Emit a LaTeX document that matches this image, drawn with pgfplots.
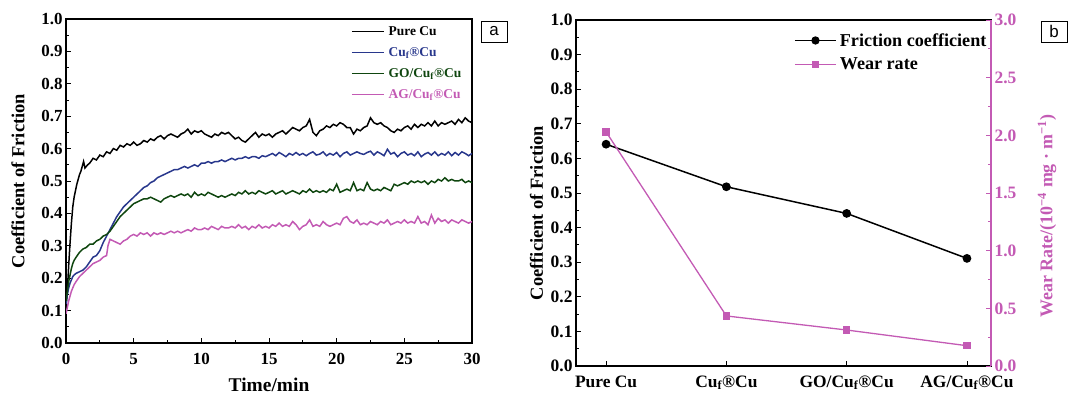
\documentclass[border=0pt]{standalone}
\usepackage{fontspec}
\setmainfont{Liberation Serif}
\newfontfamily\sansf{Liberation Sans}
\usepackage{pgfplots}
\pgfplotsset{compat=1.18}
\definecolor{cblue}{RGB}{40,55,140}
\definecolor{cgreen}{RGB}{15,70,15}
\definecolor{cpink}{RGB}{195,90,180}
\begin{document}
\begin{tikzpicture}
\useasboundingbox (0bp,0bp) rectangle (1075bp,395bp);
% ---------------- panel a ----------------
\begin{axis}[at={(66bp,52bp)}, anchor=south west, width=406bp, height=324bp, scale only axis,
  xmin=0, xmax=30, ymin=0, ymax=1,
  xtick={0,5,10,15,20,25,30}, ytick={0,0.1,0.2,0.3,0.4,0.5,0.6,0.7,0.8,0.9,1.0},
  minor x tick num=1, minor y tick num=1,
  tick align=inside, xtick pos=bottom, ytick pos=left,
  major tick length=5bp, minor tick length=3bp,
  every tick/.style={black, line width=0.9bp},
  axis line style={line width=1.3bp},
  /pgf/number format/assume math mode=true,
  ticklabel style={font=\fontsize{17}{20}\selectfont\bfseries},
  xticklabel style={yshift=-7bp},
  yticklabel style={/pgf/number format/.cd, fixed, fixed zerofill, precision=1},
  xlabel={Time/min},
  xlabel style={font=\fontsize{19.5}{22}\selectfont\bfseries, at={(axis description cs:0.5,-0.128)}, anchor=center},
  ylabel={Coefficient of Friction},
  ylabel style={font=\fontsize{18.5}{22}\selectfont\bfseries, at={(axis description cs:-0.118,0.5)}, anchor=center},
  legend cell align=left,
  legend image code/.code={\draw[#1, line width=1.4bp] (0bp,0bp) -- (32bp,0bp);},
  legend style={at={(axis description cs:0.702,0.978)}, anchor=north west, draw=none, fill=none,
    font=\fontsize{13.5}{15}\selectfont\bfseries, row sep=10.5bp, column sep=4bp, inner sep=0pt,
    nodes={inner sep=0pt}},
]
\addplot[black, line width=1.5bp] coordinates {
(0,0.11)(0.1,0.16)(0.2,0.24)(0.3,0.31)(0.4,0.37)(0.5,0.42)(0.6,0.45)(0.7,0.47)(0.8,0.49)(0.9,0.505)
(1.0,0.52)(1.1,0.53)(1.2,0.545)(1.3,0.56)(1.4,0.54)(1.5,0.545)(1.6,0.55)(1.75,0.555)(2.0,0.57)(2.25,0.565)
(2.5,0.58)(2.75,0.575)(3.0,0.59)(3.25,0.585)(3.5,0.6)(3.75,0.595)(4.0,0.61)(4.25,0.605)(4.5,0.615)(4.75,0.61)
(5.0,0.62)(5.25,0.61)(5.5,0.615)(5.75,0.625)(6.0,0.62)(6.25,0.63)(6.5,0.625)(6.75,0.635)(7.0,0.64)(7.25,0.63)
(7.5,0.64)(7.75,0.645)(8.0,0.64)(8.25,0.635)(8.5,0.645)(8.75,0.65)(9.0,0.66)(9.25,0.645)(9.5,0.655)(9.75,0.65)
(10.0,0.655)(10.25,0.645)(10.5,0.64)(10.75,0.635)(11.0,0.645)(11.25,0.64)(11.5,0.65)(11.75,0.645)(12.0,0.65)(12.25,0.64)
(12.5,0.63)(12.75,0.635)(13.0,0.625)(13.25,0.62)(13.5,0.63)(13.75,0.64)(14.0,0.65)(14.25,0.635)(14.5,0.645)(14.75,0.64)
(15.0,0.645)(15.25,0.635)(15.5,0.645)(15.75,0.65)(16.0,0.655)(16.25,0.645)(16.5,0.655)(16.75,0.665)(17.0,0.66)(17.25,0.655)
(17.5,0.665)(17.75,0.67)(18.0,0.69)(18.25,0.65)(18.5,0.64)(18.75,0.655)(19.0,0.66)(19.25,0.67)(19.5,0.665)(19.75,0.675)
(20.0,0.67)(20.25,0.68)(20.5,0.675)(20.75,0.665)(21.0,0.665)(21.25,0.645)(21.5,0.66)(21.75,0.655)(22.0,0.665)(22.25,0.67)
(22.5,0.695)(22.75,0.68)(23.0,0.675)(23.25,0.68)(23.5,0.67)(23.75,0.665)(24.0,0.655)(24.25,0.65)(24.5,0.66)(24.75,0.655)
(25.0,0.665)(25.25,0.67)(25.5,0.66)(25.75,0.675)(26.0,0.665)(26.25,0.675)(26.5,0.67)(26.75,0.68)(27.0,0.67)(27.25,0.685)
(27.5,0.67)(27.75,0.68)(28.0,0.675)(28.25,0.68)(28.5,0.685)(28.75,0.675)(29.0,0.69)(29.25,0.68)(29.5,0.695)(29.75,0.685)(30.0,0.68)};
\addlegendentry{Pure Cu}
\addplot[cblue, line width=1.5bp] coordinates {
(0,0.12)(0.1,0.15)(0.2,0.17)(0.3,0.185)(0.4,0.195)(0.5,0.205)(0.6,0.21)(0.75,0.215)(1.0,0.22)(1.25,0.225)
(1.5,0.235)(1.75,0.25)(2.0,0.265)(2.25,0.27)(2.5,0.285)(2.75,0.31)(3.0,0.33)(3.25,0.35)(3.5,0.37)(3.75,0.39)
(4.0,0.405)(4.25,0.42)(4.5,0.43)(4.75,0.44)(5.0,0.45)(5.25,0.46)(5.5,0.47)(5.75,0.48)(6.0,0.485)(6.25,0.495)
(6.5,0.5)(6.75,0.51)(7.0,0.515)(7.25,0.52)(7.5,0.525)(7.75,0.53)(8.0,0.535)(8.25,0.535)(8.5,0.54)(8.75,0.545)
(9.0,0.54)(9.25,0.545)(9.5,0.55)(9.75,0.545)(10.0,0.555)(10.25,0.555)(10.5,0.56)(10.75,0.555)(11.0,0.56)(11.25,0.56)
(11.5,0.565)(11.75,0.56)(12.0,0.565)(12.25,0.57)(12.5,0.565)(12.75,0.57)(13.0,0.57)(13.25,0.575)(13.5,0.57)(13.75,0.575)
(14.0,0.575)(14.25,0.57)(14.5,0.578)(14.75,0.575)(15.0,0.58)(15.25,0.585)(15.5,0.578)(15.75,0.588)(16.0,0.582)(16.25,0.575)
(16.5,0.585)(16.75,0.58)(17.0,0.588)(17.25,0.58)(17.5,0.585)(17.75,0.578)(18.0,0.585)(18.25,0.59)(18.5,0.58)(18.75,0.583)
(19.0,0.59)(19.25,0.578)(19.5,0.585)(19.75,0.58)(20.0,0.588)(20.25,0.575)(20.5,0.585)(20.75,0.59)(21.0,0.58)(21.25,0.585)
(21.5,0.59)(21.75,0.585)(22.0,0.582)(22.25,0.588)(22.5,0.592)(22.75,0.58)(23.0,0.59)(23.25,0.585)(23.5,0.578)(23.75,0.598)
(24.0,0.583)(24.25,0.588)(24.5,0.575)(24.75,0.585)(25.0,0.59)(25.25,0.58)(25.5,0.585)(25.75,0.578)(26.0,0.59)(26.25,0.575)
(26.5,0.583)(26.75,0.588)(27.0,0.58)(27.25,0.59)(27.5,0.578)(27.75,0.585)(28.0,0.58)(28.25,0.59)(28.5,0.578)(28.75,0.588)
(29.0,0.58)(29.25,0.59)(29.5,0.585)(29.75,0.578)(30.0,0.585)};
\addlegendentry{\textcolor{cblue}{Cu\textsubscript{f}®Cu}}
\addplot[cgreen, line width=1.5bp] coordinates {
(0,0.13)(0.1,0.16)(0.2,0.19)(0.3,0.21)(0.4,0.23)(0.5,0.245)(0.6,0.255)(0.75,0.265)(1.0,0.28)(1.25,0.29)
(1.5,0.295)(1.75,0.305)(2.0,0.305)(2.25,0.315)(2.5,0.32)(2.75,0.33)(3.0,0.335)(3.25,0.345)(3.5,0.36)(3.75,0.375)
(4.0,0.39)(4.25,0.4)(4.5,0.41)(4.75,0.42)(5.0,0.43)(5.25,0.435)(5.5,0.44)(5.75,0.445)(6.0,0.445)(6.25,0.45)
(6.5,0.445)(6.75,0.44)(7.0,0.435)(7.25,0.445)(7.5,0.45)(7.75,0.455)(8.0,0.45)(8.25,0.455)(8.5,0.46)(8.75,0.455)
(9.0,0.46)(9.25,0.45)(9.5,0.465)(9.75,0.455)(10.0,0.46)(10.25,0.455)(10.5,0.465)(10.75,0.46)(11.0,0.455)(11.25,0.45)
(11.5,0.455)(11.75,0.45)(12.0,0.455)(12.25,0.46)(12.5,0.455)(12.75,0.465)(13.0,0.46)(13.25,0.47)(13.5,0.46)(13.75,0.465)
(14.0,0.46)(14.25,0.47)(14.5,0.465)(14.75,0.46)(15.0,0.465)(15.25,0.47)(15.5,0.46)(15.75,0.465)(16.0,0.47)(16.25,0.46)
(16.5,0.465)(16.75,0.47)(17.0,0.465)(17.25,0.46)(17.5,0.47)(17.75,0.465)(18.0,0.475)(18.25,0.465)(18.5,0.47)(18.75,0.465)
(19.0,0.47)(19.25,0.465)(19.5,0.475)(19.75,0.47)(20.0,0.49)(20.25,0.465)(20.5,0.47)(20.75,0.475)(21.0,0.47)(21.25,0.495)
(21.5,0.47)(21.75,0.475)(22.0,0.47)(22.25,0.495)(22.5,0.475)(22.75,0.47)(23.0,0.475)(23.25,0.47)(23.5,0.48)(23.75,0.475)
(24.0,0.47)(24.25,0.49)(24.5,0.485)(24.75,0.49)(25.0,0.495)(25.25,0.49)(25.5,0.5)(25.75,0.495)(26.0,0.5)(26.25,0.495)
(26.5,0.5)(26.75,0.49)(27.0,0.5)(27.25,0.495)(27.5,0.505)(27.75,0.5)(28.0,0.51)(28.25,0.5)(28.5,0.505)(28.75,0.5)
(29.0,0.5)(29.25,0.505)(29.5,0.495)(29.75,0.5)(30.0,0.495)};
\addlegendentry{\textcolor{cgreen}{GO/Cu\textsubscript{f}®Cu}}
\addplot[cpink, line width=1.5bp] coordinates {
(0,0.09)(0.1,0.11)(0.2,0.13)(0.3,0.145)(0.4,0.16)(0.5,0.17)(0.6,0.18)(0.75,0.19)(1.0,0.205)(1.25,0.215)
(1.5,0.225)(1.75,0.235)(2.0,0.245)(2.25,0.25)(2.5,0.255)(2.75,0.265)(3.0,0.27)(3.1,0.3)(3.25,0.32)(3.5,0.315)
(3.75,0.31)(4.0,0.305)(4.25,0.315)(4.5,0.32)(4.75,0.33)(5.0,0.335)(5.25,0.33)(5.5,0.34)(5.75,0.335)(6.0,0.34)
(6.25,0.33)(6.5,0.34)(6.75,0.335)(7.0,0.34)(7.25,0.335)(7.5,0.34)(7.75,0.345)(8.0,0.34)(8.25,0.345)(8.5,0.34)
(8.75,0.345)(9.0,0.35)(9.25,0.345)(9.5,0.355)(9.75,0.35)(10.0,0.35)(10.25,0.355)(10.5,0.35)(10.75,0.36)(11.0,0.355)
(11.25,0.35)(11.5,0.36)(11.75,0.355)(12.0,0.355)(12.25,0.36)(12.5,0.355)(12.75,0.365)(13.0,0.355)(13.25,0.36)(13.5,0.35)
(13.75,0.36)(14.0,0.355)(14.25,0.365)(14.5,0.355)(14.75,0.36)(15.0,0.355)(15.25,0.365)(15.5,0.36)(15.75,0.37)(16.0,0.36)
(16.25,0.365)(16.5,0.36)(16.75,0.375)(17.0,0.365)(17.25,0.35)(17.5,0.36)(17.75,0.365)(18.0,0.38)(18.25,0.36)(18.5,0.365)
(18.75,0.36)(19.0,0.375)(19.25,0.365)(19.5,0.36)(19.75,0.365)(20.0,0.37)(20.25,0.365)(20.5,0.385)(20.75,0.39)(21.0,0.375)
(21.25,0.37)(21.5,0.38)(21.75,0.365)(22.0,0.37)(22.25,0.365)(22.5,0.375)(22.75,0.37)(23.0,0.365)(23.25,0.375)(23.5,0.37)
(23.75,0.38)(24.0,0.365)(24.25,0.37)(24.5,0.375)(24.75,0.37)(25.0,0.38)(25.25,0.37)(25.5,0.375)(25.75,0.37)(26.0,0.39)
(26.25,0.37)(26.5,0.375)(26.75,0.365)(27.0,0.395)(27.25,0.37)(27.5,0.385)(27.75,0.375)(28.0,0.38)(28.25,0.37)(28.5,0.38)
(28.75,0.375)(29.0,0.37)(29.25,0.38)(29.5,0.375)(29.75,0.37)(30.0,0.375)};
\addlegendentry{\textcolor{cpink}{AG/Cu\textsubscript{f}®Cu}}
\end{axis}
\node[draw, line width=0.8bp, minimum width=26bp, minimum height=21bp, inner sep=0pt,
  font=\sansf\fontsize{17}{17}\selectfont] at (494bp,363.5bp) {a};
% ---------------- panel b ----------------
\begin{axis}[at={(576bp,29bp)}, anchor=south west, width=415bp, height=346bp, scale only axis,
  xmin=-0.25, xmax=3.2, ymin=0, ymax=1,
  xtick={0,1,2,3},
  xticklabels={Pure Cu, Cu\textsubscript{f}®Cu, GO/Cu\textsubscript{f}®Cu, AG/Cu\textsubscript{f}®Cu},
  ytick={0,0.1,0.2,0.3,0.4,0.5,0.6,0.7,0.8,0.9,1.0},
  minor y tick num=1,
  tick align=inside, xtick pos=bottom, ytick pos=left,
  major tick length=5bp, minor tick length=3bp,
  every tick/.style={black, line width=0.9bp},
  axis line style={line width=1.3bp},
  /pgf/number format/assume math mode=true,
  ticklabel style={font=\fontsize{17.5}{20}\selectfont\bfseries},
  xticklabel style={yshift=-6bp},
  yticklabel style={/pgf/number format/.cd, fixed, fixed zerofill, precision=1},
  ylabel={Coefficient of Friction},
  ylabel style={font=\fontsize{18.5}{22}\selectfont\bfseries, at={(axis description cs:-0.095,0.442)}, anchor=center},
]
\addplot[black, line width=1.5bp, mark=*, mark size=3.6bp] coordinates {(0,0.641)(1,0.518)(2,0.441)(3,0.311)};
\end{axis}
\begin{axis}[at={(576bp,29bp)}, anchor=south west, width=415bp, height=346bp, scale only axis,
  xmin=-0.25, xmax=3.2, ymin=0, ymax=3,
  axis x line=none, axis y line*=right,
  ytick={0,0.5,1.0,1.5,2.0,2.5,3.0}, minor y tick num=1,
  tick align=inside,
  major tick length=5bp, minor tick length=3bp,
  every tick/.style={cpink, line width=0.9bp},
  axis line style={line width=1.3bp, cpink},
  /pgf/number format/assume math mode=true,
  yticklabel style={font=\fontsize{17.5}{20}\selectfont\bfseries, cpink, /pgf/number format/.cd, fixed, fixed zerofill, precision=1},
  ylabel={Wear Rate/(10\textsuperscript{−4} mg · m\textsuperscript{−1})},
  ylabel style={font=\fontsize{18}{22}\selectfont\bfseries, cpink, at={(axis description cs:1.135,0.434)}, anchor=center},
  legend cell align=left,
  legend style={at={(axis description cs:0.525,0.962)}, anchor=north west, draw=none, fill=none,
    font=\fontsize{18.2}{20}\selectfont\bfseries, row sep=10bp, column sep=3bp, inner sep=0pt,
    nodes={inner sep=0pt}},
  legend image code/.code={\draw[mark repeat=2, mark phase=2, #1] plot coordinates {(0bp,0bp) (20.5bp,0bp) (41bp,0bp)};},
]
\addlegendimage{black, line width=1.8bp, mark=*, mark size=3.2bp}
\addlegendentry{Friction coefficient}
\addplot[cpink, line width=1.3bp, mark=square*, mark size=3bp] coordinates {(0,2.03)(1,0.434)(2,0.312)(3,0.176)};
\addlegendentry{Wear rate}
\end{axis}
\node[draw, line width=0.8bp, minimum width=26bp, minimum height=21bp, inner sep=0pt,
  font=\sansf\fontsize{17}{17}\selectfont] at (1054bp,363.5bp) {b};
\end{tikzpicture}
\end{document}
